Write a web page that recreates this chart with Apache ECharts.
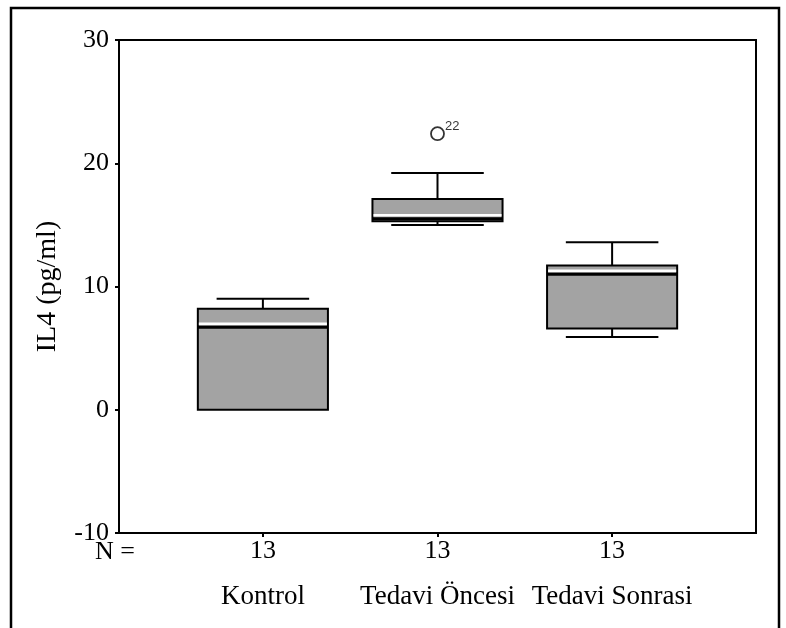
<!DOCTYPE html>
<html><head><meta charset="utf-8">
<script src="https://cdn.jsdelivr.net/npm/echarts@6/dist/echarts.min.js"></script>
<style>html,body{margin:0;padding:0;background:#fff}#c{width:786px;height:628px}</style>
</head><body><div id="c"></div>
<script>
var categories = ['Kontrol', 'Tedavi Öncesi', 'Tedavi Sonrasi'];
var nCounts = [13, 13, 13];
var whiskerLow = [0, 15.0, 5.9];
var q1 = [0, 15.3, 6.6];
var median = [6.7, 15.5, 11.0];
var q3 = [8.2, 17.1, 11.7];
var whiskerHigh = [9.0, 19.2, 13.6];
var outliers = [[2, 22.4, '22']];
var yTicks = [-10, 0, 10, 20, 30];

var font = 'Liberation Serif';
var boxData = categories.map(function (c, i) {
  return [i + 1, whiskerLow[i], q1[i], median[i], q3[i], whiskerHigh[i]];
});
var xPos = categories.map(function (c, i) { return i + 1; });

function renderBox(params, api) {
  var x = api.value(0);
  var lo = api.coord([x, api.value(1)]);
  var b1 = api.coord([x, api.value(2)]);
  var md = api.coord([x, api.value(3)]);
  var b3 = api.coord([x, api.value(4)]);
  var hi = api.coord([x, api.value(5)]);
  var unit = api.size([1, 0])[0];
  var bw = unit * 0.745, ww = unit * 0.53;
  var cx = lo[0];
  var ln = {stroke: '#000', lineWidth: 2};
  var children = [];
  children.push({type: 'line', shape: {x1: cx, y1: b3[1], x2: cx, y2: hi[1]}, style: ln});
  children.push({type: 'line', shape: {x1: cx - ww / 2, y1: hi[1], x2: cx + ww / 2, y2: hi[1]}, style: ln});
  if (lo[1] - b1[1] > 0.5) {
    children.push({type: 'line', shape: {x1: cx, y1: b1[1], x2: cx, y2: lo[1]}, style: ln});
    children.push({type: 'line', shape: {x1: cx - ww / 2, y1: lo[1], x2: cx + ww / 2, y2: lo[1]}, style: ln});
  }
  children.push({type: 'rect', shape: {x: cx - bw / 2, y: b3[1], width: bw, height: b1[1] - b3[1]},
    style: {fill: '#a3a3a3', stroke: '#000', lineWidth: 2}});
  children.push({type: 'line', shape: {x1: cx - bw / 2 + 1, y1: md[1] - 3.5, x2: cx + bw / 2 - 1, y2: md[1] - 3.5},
    style: {stroke: '#fff', lineWidth: 2.5}});
  children.push({type: 'line', shape: {x1: cx - bw / 2, y1: md[1], x2: cx + bw / 2, y2: md[1]},
    style: {stroke: '#000', lineWidth: 3}});
  return {type: 'group', children: children};
}

var chart = echarts.init(document.getElementById('c'), null, {renderer: 'canvas'});
var xBase = {
  type: 'value', min: 0.176, max: 3.824,
  splitLine: {show: false},
  axisLine: {show: true, onZero: false, lineStyle: {color: '#000', width: 2}}
};
chart.setOption({
  animation: false,
  backgroundColor: '#fff',
  grid: {left: 119, right: 30, top: 40, bottom: 95, show: true, borderColor: '#000', borderWidth: 2, backgroundColor: 'transparent'},
  xAxis: [
    Object.assign({}, xBase, {
      position: 'bottom',
      axisTick: {show: true, inside: false, length: 4, customValues: xPos, lineStyle: {color: '#000', width: 2}},
      axisLabel: {show: true, customValues: xPos, margin: 5, fontFamily: font, fontSize: 26, color: '#000',
        formatter: function (v) { return String(nCounts[Math.round(v) - 1]); }}
    }),
    Object.assign({}, xBase, {
      position: 'bottom',
      axisLine: {show: false},
      axisTick: {show: false},
      axisLabel: {show: true, customValues: xPos, margin: 50, fontFamily: font, fontSize: 27, color: '#000',
        formatter: function (v) { return categories[Math.round(v) - 1]; }}
    })
  ],
  yAxis: {
    type: 'value', min: -10, max: 30, interval: 10,
    name: 'IL4 (pg/ml)', nameLocation: 'middle', nameGap: 57, nameRotate: 90,
    nameTextStyle: {fontFamily: font, fontSize: 28, color: '#000'},
    splitLine: {show: false},
    axisLine: {show: true, onZero: false, lineStyle: {color: '#000', width: 2}},
    axisTick: {show: true, inside: false, length: 4, lineStyle: {color: '#000', width: 2}},
    axisLabel: {margin: 10, fontFamily: font, fontSize: 26, color: '#000'}
  },
  graphic: [
    {type: 'rect', shape: {x: 11, y: 8, width: 768, height: 640}, style: {fill: 'none', stroke: '#000', lineWidth: 2.5}, silent: true},
    {type: 'text', x: 135, y: 552, style: {text: 'N =', font: '26px "Liberation Serif"', fill: '#000', align: 'right', verticalAlign: 'middle'}}
  ],
  series: [
    {type: 'custom', renderItem: renderBox, data: boxData, encode: {x: 0, y: [1, 2, 3, 4, 5]}, z: 3},
    {type: 'scatter', data: outliers, symbol: 'circle', symbolSize: 13,
      itemStyle: {color: '#fff', borderColor: '#000', borderWidth: 1.8},
      label: {show: true, position: [15, -6], formatter: function (p) { return p.data[2]; },
        fontFamily: 'Liberation Sans', fontSize: 13, color: '#000'}, z: 4}
  ]
});
</script></body></html>
